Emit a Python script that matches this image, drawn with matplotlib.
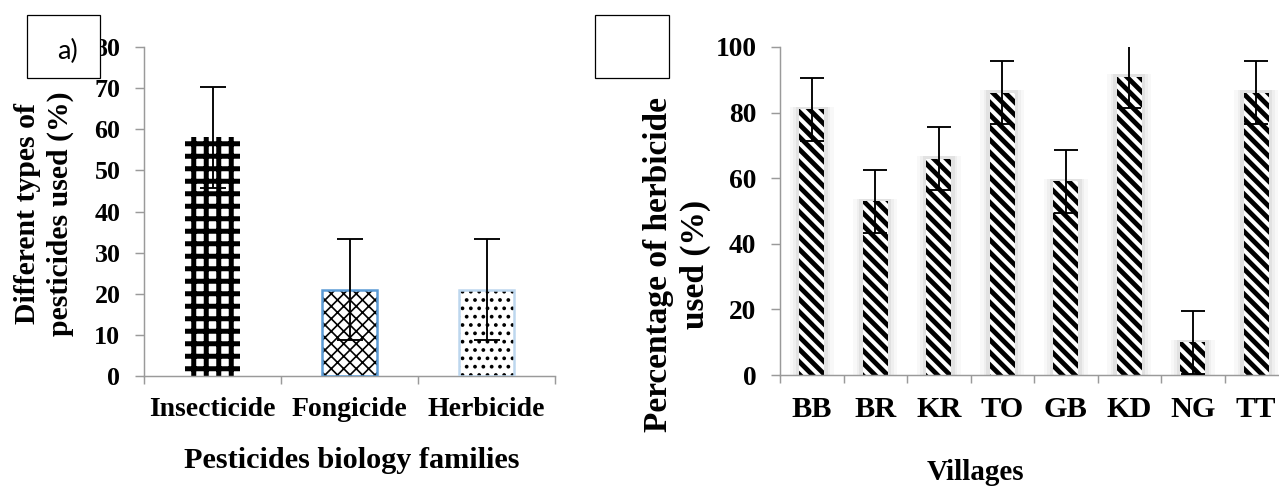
import numpy as np
import matplotlib
matplotlib.use("Agg")
import matplotlib.pyplot as plt
from matplotlib.patches import Rectangle

# panel a) data
families = ["Insecticide", "Fongicide", "Herbicide"]
family_pct = [58, 21, 21]
family_err = [12.3, 12.3, 12.3]

# panel b) data
villages = ["BB", "BR", "KR", "TO", "GB", "KD", "NG", "TT"]
herb_pct = [81, 53, 66, 86, 59, 91, 10, 86]
herb_err = [9.6, 9.6, 9.6, 9.6, 9.6, 9.6, 9.6, 9.6]

DPI = 150
W, H = 1279, 486
serif = "Liberation Serif"
axcol = "#9a9a9a"

fig = plt.figure(figsize=(W / DPI, H / DPI), dpi=DPI)


def px(x0, y_top, x1, y_bot):
    # pixel box -> figure fraction rect
    return [x0 / W, 1 - y_bot / H, (x1 - x0) / W, (y_bot - y_top) / H]


def style_axis(ax, n, ysize):
    for s in ["top", "right"]:
        ax.spines[s].set_visible(False)
    for s in ["left", "bottom"]:
        ax.spines[s].set_color(axcol)
        ax.spines[s].set_linewidth(0.7)
    ax.set_xlim(-0.5, n - 0.5)
    ax.set_xticks(np.arange(n))
    ax.set_xticks(np.arange(n + 1) - 0.5, minor=True)
    ax.tick_params(axis="x", which="major", length=0, pad=10)
    ax.tick_params(axis="x", which="minor", length=3.9, color=axcol, width=0.7)
    ax.tick_params(axis="y", length=4.3, color=axcol, width=0.7, pad=7)
    for lab in ax.get_yticklabels():
        lab.set_fontfamily(serif)
        lab.set_fontweight("bold")
        lab.set_fontsize(ysize)


def set_hlw(patch, lw):
    try:
        patch.set_hatch_linewidth(lw)
    except AttributeError:
        pass


# ---------------- panel a) ----------------
ax1 = fig.add_axes(px(144, 47, 555, 376))
x1 = np.arange(len(families))
hatches = ["++", "xxxx", "..."]
hlws = [2.4, 0.8, 1.0]
edges = ["none", "#5b9bd5", "#bdd7ee"]
for i in range(len(families)):
    b = ax1.bar(x1[i], family_pct[i], width=0.40, color="white",
                edgecolor="black", linewidth=0, hatch=hatches[i], zorder=2)
    set_hlw(b[0], hlws[i])
    if edges[i] != "none":
        ax1.bar(x1[i], family_pct[i], width=0.40, fill=False,
                edgecolor=edges[i], linewidth=1.2, zorder=3)
ax1.errorbar(x1, family_pct, yerr=family_err, fmt="none", ecolor="black",
             elinewidth=0.9, capsize=6.2, capthick=0.9, zorder=4)
ax1.set_ylim(0, 80)
ax1.set_yticks(np.arange(0, 81, 10))
ax1.set_xticklabels(families, fontfamily=serif, fontweight="bold", fontsize=13.3)
style_axis(ax1, len(families), 12.5)

fig.text(352 / W, 1 - 460 / H, "Pesticides biology families", ha="center",
         va="center", fontfamily=serif, fontweight="bold", fontsize=14.5)
fig.text(44 / W, 1 - 214 / H, "Different types of\npesticides used (%)",
         rotation=90, ha="center", va="center", multialignment="center",
         fontfamily=serif, fontweight="bold", fontsize=14.3, linespacing=1.3)

# ---------------- panel b) ----------------
ax2 = fig.add_axes(px(780, 47, 1288, 375))
x2 = np.arange(len(villages))
# soft glow around the bars
for extra, a in [(0.30, 0.08), (0.20, 0.12), (0.11, 0.2)]:
    ax2.bar(x2, np.array(herb_pct) + 0.8, width=0.39 + extra,
            color="#b0b0b0", alpha=a, linewidth=0, zorder=1)
bars = ax2.bar(x2, herb_pct, width=0.39, color="white", edgecolor="black",
               linewidth=0, hatch="\\\\\\\\", zorder=2)
for b in bars:
    set_hlw(b, 2.3)
ax2.errorbar(x2, herb_pct, yerr=herb_err, fmt="none", ecolor="black",
             elinewidth=0.9, capsize=5.8, capthick=0.9, zorder=4)
ax2.set_ylim(0, 100)
ax2.set_yticks(np.arange(0, 101, 20))
ax2.set_xticklabels(villages, fontfamily=serif, fontweight="bold", fontsize=14.5)
style_axis(ax2, len(villages), 13.2)

fig.text(975 / W, 1 - 472 / H, "Villages", ha="center", va="center",
         fontfamily=serif, fontweight="bold", fontsize=14)
fig.text(677 / W, 1 - 264 / H, "Percentage of herbicide\nused (%)",
         rotation=90, ha="center", va="center", multialignment="center",
         fontfamily=serif, fontweight="bold", fontsize=16, linespacing=1.25)

# label boxes
for (bx0, bx1), lab in [((27, 100), "a)"), ((595, 669), "")]:
    fig.add_artist(Rectangle((bx0 / W, 1 - 78 / H), (bx1 - bx0) / W, 63 / H,
                             transform=fig.transFigure, facecolor="white",
                             edgecolor="black", linewidth=0.6, zorder=10))
    if lab:
        fig.text(68 / W, 1 - 51 / H, lab, ha="center", va="center",
                 fontfamily="Lato", fontsize=13, zorder=11)

fig.savefig("out.png", dpi=DPI)
